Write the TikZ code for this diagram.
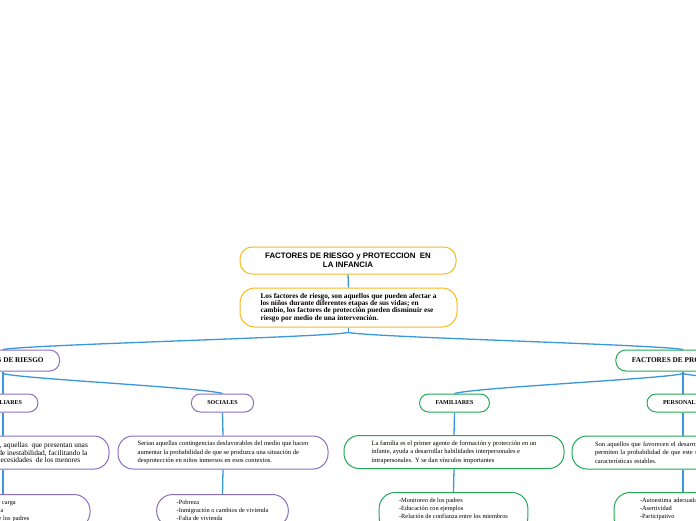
\documentclass[tikz,border=0pt]{standalone}
\usepackage{fontspec}
\setmainfont{Liberation Serif}
\newfontfamily\titulofont{Liberation Sans}
\usepackage{xcolor}
\usetikzlibrary{positioning,calc}

\definecolor{naranja}{HTML}{F8BA1F}
\definecolor{morado}{HTML}{8A6FBF}
\definecolor{verde}{HTML}{22A857}
\definecolor{azul}{HTML}{3A98DA}

\begin{document}
\begin{tikzpicture}[x=1pt, y=-1pt,
    caja/.style={draw, fill=white, line width=1pt},
    raiz/.style={caja, draw=naranja, rounded corners=12pt, minimum width=216pt, minimum height=27pt, align=center, font=\titulofont\bfseries\fontsize{7.9}{9}\selectfont},
    idea/.style={caja, draw=naranja, rounded corners=15pt, minimum width=217pt, minimum height=39pt, align=left, font=\bfseries\fontsize{7.3}{7.3}\selectfont},
    rama/.style={caja, rounded corners=10pt, inner xsep=16pt, minimum height=21pt, font=\bfseries\fontsize{7.3}{8}\selectfont},
    subrama/.style={caja, rounded corners=9pt, inner xsep=16pt, minimum height=18pt, font=\bfseries\fontsize{6}{7}\selectfont},
    texto/.style={caja, rounded corners=15pt, minimum height=33pt, inner ysep=3pt, align=left, font=\fontsize{6.55}{8.5}\selectfont},
    lista/.style={caja, anchor=north, rounded corners=16pt, inner xsep=20pt, inner ysep=6pt, align=left, font=\fontsize{6.35}{8}\selectfont},
    conector/.style={draw=azul, line width=1.3pt}
  ]
  \useasboundingbox (0,0) rectangle (696,520);
  \clip (0,0) rectangle (696,520);
  \fill[white] (0,0) rectangle (696,520);

  % centro
  \node[raiz] (titulo) at (348,260.5) {FACTORES DE RIESGO y PROTECCION\ \ EN\\LA INFANCIA};
  \node[idea] (definicion) at (348.5,307.5) {Los factores de riesgo, son aquellos que pueden afectar a\\los niños durante diferentes etapas de sus vidas; en\\cambio, los factores de protección pueden disminuir ese\\riesgo por medio de una intervención.};

  % ramas principales
  \node[rama, draw=morado] (riesgo) at (3,360.5) {FACTORES DE RIESGO};
  \node[rama, draw=verde] (proteccion) at (683,360.5) {FACTORES DE PROTECCION};

  \node[subrama, draw=morado] (rfam) at (3,403) {FAMILIARES};
  \node[subrama, draw=morado] (rsoc) at (222.5,403) {SOCIALES};
  \node[subrama, draw=verde] (pfam) at (454.5,403) {FAMILIARES};
  \node[subrama, draw=verde] (pper) at (683,403) {PERSONALES};
  \coordinate (potra) at (911,394);

  \node[texto, draw=morado, minimum width=212pt, font=\fontsize{7.4}{7.8}\selectfont] (rfamdef) at (3,452.5) {Son familias disfuncionales, aquellas\ \ que presentan unas\\situaciones de conflictos y de inestabilidad, facilitando la\\omisión de cuidado de las necesidades\ \ de los menores};
  \node[texto, draw=morado, minimum width=210pt] (rsocdef) at (223,452.5) {Serian aquellas contingencias desfavorables del medio que hacen\\aumentar la probabilidad de que se produzca una situación de\\desprotección en niños inmersos en esos contextos.};
  \node[texto, draw=verde, minimum width=220pt] (pfamdef) at (454,452) {La familia es el primer agente de formación y protección en un\\infante, ayuda a desarrollar habilidades interpersonales e\\intrapersonales. Y se dan vínculos importantes};
  \node[texto, draw=verde, minimum width=222pt, text width=176pt] (pperdef) at (683,452.5) {Son aquellos que favorecen el desarrollo de la persona y\\permiten la probabilidad de que este se mantenga con\\características estables.};

  \node[lista, draw=morado, text width=135pt, inner xsep=19.5pt] (rfamlis) at (3,494) {-Familias numerosas con carga\\-Agresividad en la familia\\-Ausencia de atención de los padres};
  \node[lista, draw=morado] (rsoclis) at (222.5,494) {-Pobreza\\-Inmigración o cambios de vivienda\\-Falta de vivienda};
  \node[lista, draw=verde] (pfamlis) at (453.5,492) {-Monitoreo de los padres\\-Educación con ejemplos\\-Relación de confianza entre los miembros\\-Vínculo afectivo estable};
  \node[lista, draw=verde, text width=86pt, inner xsep=26pt] (pperlis) at (683,492) {-Autoestima adecuada\\-Asertividad\\-Participativo\\-Habilidades sociales};

  % conectores
  \draw[conector] (titulo.south) -- (definicion.north);
  \draw[conector] (definicion.south) -- ++(0,5) coordinate (f0);
  \draw[conector] (f0) .. controls +(-28,5) and +(27,-5) .. (riesgo.north);
  \draw[conector] (f0) .. controls +(28,5) and +(-27,-5) .. (proteccion.north);

  \draw[conector] (riesgo.south) -- (rfam.north);
  \draw[conector] (riesgo.south) -- ++(0,2) coordinate (f1);
  \draw[conector] (f1) .. controls +(14,5) and +(-20,-6) .. (rsoc.north);
  \draw[conector] (proteccion.south) -- (pper.north);
  \draw[conector] (proteccion.south) -- ++(0,2) coordinate (f2);
  \draw[conector] (f2) .. controls +(-14,5) and +(20,-6) .. (pfam.north);
  \draw[conector] (f2) .. controls +(14,5) and +(-20,-6) .. (potra);

  \draw[conector] (rfam.south) -- (rfamdef.north);
  \draw[conector] (rsoc.south) -- (rsocdef.north);
  \draw[conector] (pfam.south) -- (pfamdef.north);
  \draw[conector] (pper.south) -- (pperdef.north);
  \draw[conector] (rfamdef.south) -- (rfamlis.north);
  \draw[conector] (rsocdef.south) -- (rsoclis.north);
  \draw[conector] (pfamdef.south) -- (pfamlis.north);
  \draw[conector] (pperdef.south) -- (pperlis.north);
\end{tikzpicture}
\end{document}
